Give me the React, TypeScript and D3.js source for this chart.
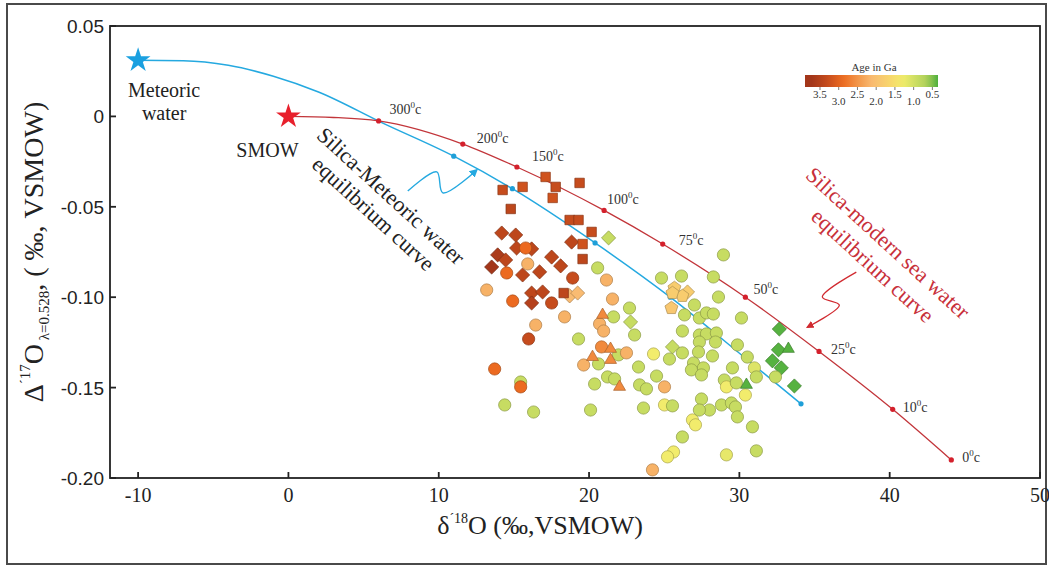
import React from 'react';
import * as d3 from 'd3';

// silica - modern sea water equilibrium curve (starts at SMOW), temperature marks
const seaD18 = [0, 3, 6.0, 11.6, 15.2, 21.0, 24.9, 30.4, 35.3, 40.2, 44.1];
const seaD17 = [0, -0.0006, -0.0025, -0.0153, -0.028, -0.052, -0.0706, -0.1, -0.13, -0.162, -0.19];
const seaTemp = ['', '', '300', '200', '150', '100', '75', '50', '25', '10', '0'];

// silica - meteoric water equilibrium curve (starts at meteoric water)
const metD18 = [-10, -7, -4, -1, 2, 6.28, 11.0, 14.9, 20.4, 25.4, 30.3, 34.1];
const metD17 = [0.031, 0.0308, 0.0283, 0.0222, 0.0135, -0.0037, -0.022, -0.04, -0.07, -0.1, -0.133, -0.159];
const metDot = [0, 0, 0, 0, 0, 0, 1, 1, 1, 1, 1, 1];

// samples: squares
const squareD18 = [14.25, 15.58, 17.11, 17.78, 19.37, 17.58, 14.79, 18.71, 19.3, 20.17, 19.57, 19.57, 18.31];
const squareD17 = [-0.0407, -0.039, -0.0335, -0.039, -0.0368, -0.0451, -0.0512, -0.0573, -0.0573, -0.0639, -0.0706, -0.0789, -0.0977];
const squareAge = [3.3, 3.2, 3.2, 3.3, 3.3, 3.2, 3.4, 3.3, 3.3, 3.3, 3.2, 3.4, 3.4];

// samples: diamonds
const diamondD18 = [14.19, 15.12, 15.18, 16.18, 13.92, 14.45, 13.52, 15.58, 16.71, 17.51, 18.11, 18.84, 16.18, 16.91, 16.18,
  18.71, 19.24, 21.3, 22.76, 25.55, 26.55, 32.66, 32.6, 32.2, 32.79, 33.66];
const diamondD17 = [-0.0645, -0.0656, -0.0728, -0.0733, -0.0766, -0.0794, -0.0833, -0.0877, -0.086, -0.0778, -0.0827, -0.0695, -0.0977, -0.0971, -0.1032,
  -0.0993, -0.0977, -0.0672, -0.1137, -0.1275, -0.0971, -0.1176, -0.1291, -0.1352, -0.1391, -0.1491];
const diamondAge = [3.4, 3.4, 3.4, 3.4, 3.6, 3.4, 3.7, 3.4, 3.4, 3.4, 3.4, 3.4, 3.4, 3.4, 3.5,
  2.1, 2.1, 0.9, 0.9, 0.9, 1.8, 0.42, 0.42, 0.42, 0.42, 0.42];

// samples: circles
const circleD18 = [15.78, 15.92, 14.52, 13.19, 14.92, 17.51, 18.91, 18.37, 16.45, 15.98, 13.72, 15.45, 15.45, 14.39, 16.31,
  20.1, 19.3, 20.57, 21.16, 21.56, 21.63, 20.7, 20.97, 20.83, 21.96, 19.64, 20.63, 20.37, 21.23, 21.7,
  22.49, 22.69, 23.03, 24.82, 26.15, 26.35, 26.21, 26.21, 25.35, 24.29, 23.29, 24.49, 25.02, 23.36, 23.82,
  25.02, 25.55, 23.62, 26.88, 26.21, 25.62, 25.22, 24.22, 28.94, 28.27, 27.01, 28.61, 27.34, 27.81, 28.27,
  30.14, 27.34, 27.81, 28.47, 27.34, 28.41, 27.28, 29.87, 28.21, 26.95, 27.61, 26.81, 27.48, 30.53, 31.0,
  31.13, 29.54, 29.0, 29.14, 29.8, 30.4, 27.48, 28.01, 28.81, 29.47, 29.74, 29.87, 27.34, 27.08, 30.87,
  29.14, 31.13, 32.4];
const circleD17 = [-0.0728, -0.0816, -0.0866, -0.096, -0.1021, -0.1032, -0.0894, -0.1109, -0.1154, -0.1231, -0.1397, -0.1469, -0.1496, -0.1596, -0.1635,
  -0.1624, -0.1231, -0.0838, -0.0905, -0.101, -0.1109, -0.1148, -0.1187, -0.1275, -0.1319, -0.1375, -0.1369, -0.148, -0.1441, -0.1452,
  -0.1308, -0.106, -0.1209, -0.0894, -0.0883, -0.1098, -0.1187, -0.1308, -0.1342, -0.1314, -0.1386, -0.1436, -0.1496, -0.1485, -0.1507,
  -0.1596, -0.1601, -0.1613, -0.1679, -0.1773, -0.1856, -0.1883, -0.1955, -0.0766, -0.0888, -0.1043, -0.0999, -0.1115, -0.1087, -0.1093,
  -0.1115, -0.1209, -0.1203, -0.1198, -0.1248, -0.1248, -0.1303, -0.1264, -0.1325, -0.1364, -0.1391, -0.1402, -0.143, -0.1331, -0.1391,
  -0.1441, -0.1391, -0.1458, -0.1496, -0.1474, -0.1541, -0.1563, -0.1624, -0.1596, -0.1585, -0.1607, -0.1662, -0.1624, -0.1706, -0.1717,
  -0.1872, -0.185, -0.1441];
const circleAge = [2.9, 2.2, 2.9, 2.2, 2.9, 3.3, 3.3, 2.2, 2.2, 3.3, 2.9, 0.9, 2.9, 0.9, 0.9,
  0.9, 0.9, 0.9, 2.2, 2.2, 0.9, 2.2, 2.2, 2.6, 0.9, 2.2, 0.9, 0.9, 0.9, 0.9,
  2.2, 0.9, 0.9, 0.9, 0.9, 0.9, 0.9, 0.9, 0.9, 1.3, 0.9, 0.9, 2.2, 0.9, 0.9,
  1.3, 0.9, 0.9, 1.3, 0.9, 1.3, 1.3, 2.2, 0.9, 0.9, 0.9, 0.9, 0.9, 0.9, 0.9,
  0.9, 0.9, 0.9, 0.9, 0.9, 0.9, 0.9, 0.9, 0.9, 0.9, 0.9, 0.9, 0.9, 0.9, 1.1,
  0.9, 0.9, 0.9, 1.3, 0.9, 1.3, 0.9, 0.9, 0.9, 0.9, 0.9, 0.9, 0.9, 1.3, 0.9,
  1.2, 0.9, 0.9];

// samples: triangles
const triD18 = [20.9, 21.43, 20.23, 21.43, 22.03, 33.26, 30.47];
const triD17 = [-0.1098, -0.1286, -0.1331, -0.1347, -0.1496, -0.1286, -0.1485];
const triAge = [2.6, 2.6, 2.6, 2.6, 2.6, 0.42, 0.42];

// samples: pentagons
const pentD18 = [25.68, 26.21, 25.55, 25.48];
const pentD17 = [-0.0949, -0.0993, -0.0977, -0.106];
const pentAge = [1.8, 1.8, 1.8, 1.9];

// colour bar
const ageStops = [3.7, 3.3, 2.9, 2.5, 2.1, 1.6, 1.3, 0.9, 0.6, 0.4];
const ageColors = ['#a3361a', '#c64c1d', '#ec6a20', '#f29548', '#f9bb72', '#f7d86c', '#f2ec6c', '#c7dc62', '#a9cd58', '#4daf3d'];
const ageTicks = [3.5, 3.0, 2.5, 2.0, 1.5, 1.0, 0.5];
const ageTickLabels = ['3.5', '3.0', '2.5', '2.0', '1.5', '1.0', '0.5'];

const xTicks = [-10, 0, 10, 20, 30, 40, 50];
const yTicks = [0.05, 0, -0.05, -0.1, -0.15, -0.2];
const yTickLabels = ['0.05', '0', '-0.05', '-0.10', '-0.15', '-0.20'];

// label nudges for temperature marks (px)
const tempDx = [0, 0, 11, 14, 15, 3, 16, 8, 12, 10, 11];
const tempDy = [0, 0, -7, -1, -6, -6, 1, -3, 3, 3, 2];

const SERIF = 'Liberation Serif, Times New Roman, serif';
const SANS = 'Liberation Sans, Arial, sans-serif';

function pentagon(r: number) {
  const pts = d3.range(5).map(i => {
    const a = -Math.PI / 2 + i * 2 * Math.PI / 5;
    return [r * Math.cos(a), r * Math.sin(a)];
  });
  return 'M' + pts.map(p => p[0].toFixed(2) + ',' + p[1].toFixed(2)).join('L') + 'Z';
}

export default function App() {
  const x = d3.scaleLinear().domain([-11.87, 50]).range([110, 1040]);
  const y = d3.scaleLinear().domain([-0.2, 0.05]).range([478, 26]);
  const color = d3.scaleLinear<string>().domain(ageStops).range(ageColors).clamp(true);
  const legX = d3.scaleLinear().domain([3.9, 0.35]).range([805, 938]);

  const line = d3.line<number[]>().x(d => x(d[0])).y(d => y(d[1])).curve(d3.curveMonotoneX);
  const sea = seaD18.map((v, i) => [v, seaD17[i]]);
  const met = metD18.map((v, i) => [v, metD17[i]]);

  const arrowLine = d3.line<number[]>().x(d => x(d[0])).y(d => y(d[1])).curve(d3.curveCatmullRom.alpha(0.5));
  const blueArrow = [[7.94, -0.0413], [9.87, -0.0307], [10.27, -0.0423], [12.53, -0.0296]];
  const redArrow = [[37.78, -0.0861], [35.52, -0.0999], [36.65, -0.1044], [34.52, -0.1166]];

  const shapes: Record<string, string> = {
    circle: d3.symbol(d3.symbolCircle, 118)() as string,
    square: d3.symbol(d3.symbolSquare, 90)() as string,
    diamond: d3.symbol(d3.symbolSquare, 100)() as string,
    triangle: d3.symbol(d3.symbolTriangle, 62)() as string,
    pentagon: pentagon(6.8),
  };
  const star = d3.symbol(d3.symbolStar, 190)() as string;

  const drawGroup = (kind: string, xs: number[], ys: number[], ages: number[]) =>
    xs.map((v, i) => {
      const fill = color(ages[i]);
      const rot = kind === 'diamond' ? ' rotate(45)' : '';
      return (
        <path key={kind + i} d={shapes[kind]} transform={`translate(${x(v)},${y(ys[i])})${rot}`}
          fill={fill} stroke={d3.color(fill)!.darker(1).formatHex()} strokeWidth={0.7} />
      );
    });

  const gradStops = d3.range(0, 1.0001, 0.05).map(t => {
    const age = legX.invert(805 + t * 133);
    return <stop key={t} offset={t} stopColor={color(age)} />;
  });

  const metStar = [x(metD18[0]), y(metD17[0])];
  const smowStar = [x(seaD18[0]), y(seaD17[0])];
  const blueT = [x(6.83), y(-0.044)];
  const redT = [x(39.89), y(-0.07)];

  return (
    <svg width={1049} height={567} style={{ position: 'absolute', left: 0, top: 0, background: '#fff' }}
      fontFamily={SERIF}>
      <defs>
        <linearGradient id="ageGrad" x1="0" x2="1" y1="0" y2="0">{gradStops}</linearGradient>
        <marker id="arrB" viewBox="0 0 10 10" refX="8" refY="5" markerWidth="6" markerHeight="6" orient="auto">
          <path d="M0,0L10,5L0,10z" fill="#25a9e0" />
        </marker>
        <marker id="arrR" viewBox="0 0 10 10" refX="8" refY="5" markerWidth="6" markerHeight="6" orient="auto">
          <path d="M0,0L10,5L0,10z" fill="#d12a30" />
        </marker>
      </defs>
      <rect x={0} y={0} width={1049} height={567} fill="#fff" />
      <rect x={7} y={4} width={1039} height={560} fill="none" stroke="#4a4a4a" strokeWidth={2} />

      {/* plot frame */}
      <rect x={110} y={26} width={930} height={452} fill="none" stroke="#222" strokeWidth={1.8} />
      {xTicks.map(t => (
        <g key={'x' + t}>
          <line x1={x(t)} x2={x(t)} y1={478} y2={472} stroke="#222" strokeWidth={1.8} />
          <text x={x(t)} y={502} textAnchor="middle" fontSize={20} fill="#222">{t}</text>
        </g>
      ))}
      {yTicks.map((t, i) => (
        <g key={'y' + i}>
          <line x1={110} x2={116} y1={y(t)} y2={y(t)} stroke="#222" strokeWidth={1.8} />
          <text x={104} y={y(t) + 7} textAnchor="end" fontSize={19} fontFamily={SANS} fill="#222">{yTickLabels[i]}</text>
        </g>
      ))}

      {/* axis titles */}
      <text x={540} y={534} textAnchor="middle" fontSize={26} fill="#222">
        δ<tspan dy={-11} fontSize={14}>´18</tspan><tspan dy={11}>O (‰,VSMOW)</tspan>
      </text>
      <text transform="translate(43,252) rotate(-90)" textAnchor="middle" fontSize={28} fill="#222">
        Δ<tspan dy={-13} fontSize={15}>´17</tspan><tspan dy={13}>O</tspan>
        <tspan dy={6} fontSize={15}> λ=0.528</tspan><tspan dy={-6}>, ( ‰, VSMOW)</tspan>
      </text>

      {/* equilibrium curves */}
      <path d={line(met)!} fill="none" stroke="#25a9e0" strokeWidth={1.5} />
      <path d={line(sea)!} fill="none" stroke="#c2353a" strokeWidth={1.3} />
      {met.map((d, i) => metDot[i] ? <circle key={'md' + i} cx={x(d[0])} cy={y(d[1])} r={2.6} fill="#1f9fd8" /> : null)}
      {sea.map((d, i) => seaTemp[i] ? (
        <g key={'sd' + i}>
          <circle cx={x(d[0])} cy={y(d[1])} r={2.6} fill="#d4202c" />
          <text x={x(d[0]) + tempDx[i]} y={y(d[1]) + tempDy[i]} fontSize={14} fill="#333">
            {seaTemp[i]}<tspan dy={-6} fontSize={9}>0</tspan><tspan dy={6}>c</tspan>
          </text>
        </g>
      ) : null)}

      {/* samples */}
      {drawGroup('diamond', diamondD18, diamondD17, diamondAge)}
      {drawGroup('square', squareD18, squareD17, squareAge)}
      {drawGroup('circle', circleD18, circleD17, circleAge)}
      {drawGroup('triangle', triD18, triD17, triAge)}
      {drawGroup('pentagon', pentD18, pentD17, pentAge)}

      {/* end members */}
      <path d={star} transform={`translate(${metStar[0]},${metStar[1]})`} fill="#1aa0e0" />
      <path d={star} transform={`translate(${smowStar[0]},${smowStar[1]})`} fill="#e8202c" />
      <text x={metStar[0] + 26} y={metStar[1] + 37} textAnchor="middle" fontSize={20} fill="#222">Meteoric</text>
      <text x={metStar[0] + 26} y={metStar[1] + 60} textAnchor="middle" fontSize={20} fill="#222">water</text>
      <text x={smowStar[0] - 21} y={smowStar[1] + 41} textAnchor="middle" fontSize={20} fill="#222">SMOW</text>

      {/* annotations */}
      <g transform={`translate(${blueT[0]},${blueT[1]}) rotate(42.5)`} fontSize={22} fill="#222">
        <text x={0} y={0} textAnchor="middle" dominantBaseline="central">Silica-Meteoric water</text>
        <text x={-1} y={25} textAnchor="middle" dominantBaseline="central">equilibrium curve</text>
      </g>
      <path d={arrowLine(blueArrow)!} fill="none" stroke="#25a9e0" strokeWidth={1.4} markerEnd="url(#arrB)" />
      <g transform={`translate(${redT[0]},${redT[1]}) rotate(42.4)`} fontSize={22} fill="#c8303a">
        <text x={0} y={0} textAnchor="middle" dominantBaseline="central">Silica-modern sea water</text>
        <text x={4} y={27} textAnchor="middle" dominantBaseline="central">equilibrium curve</text>
      </g>
      <path d={arrowLine(redArrow)!} fill="none" stroke="#d12a30" strokeWidth={1.3} markerEnd="url(#arrR)" />

      {/* age colour bar */}
      <text x={874} y={71} textAnchor="middle" fontSize={11} fill="#333">Age in Ga</text>
      <rect x={805} y={75} width={133} height={12} fill="url(#ageGrad)" />
      {ageTicks.map((a, i) => (
        <g key={'a' + i}>
          <line x1={legX(a)} x2={legX(a)} y1={87} y2={90} stroke="#555" strokeWidth={0.8} />
          <text x={legX(a)} y={98 + (i % 2) * 7} textAnchor="middle" fontSize={11} fill="#333">{ageTickLabels[i]}</text>
        </g>
      ))}
    </svg>
  );
}
